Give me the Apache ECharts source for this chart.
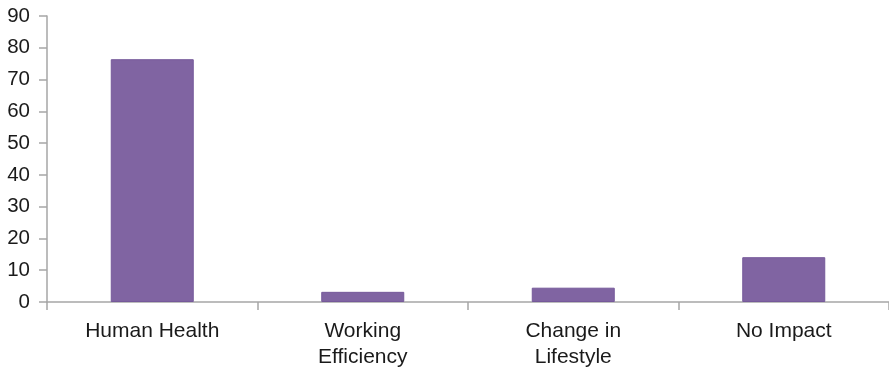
<!DOCTYPE html>
<html>
<head>
<meta charset="utf-8">
<script src="https://cdn.jsdelivr.net/npm/echarts@6/dist/echarts.min.js"></script>
<style>
  html, body { margin: 0; padding: 0; background: #ffffff; }
  #chart { width: 889px; height: 371px; }
</style>
</head>
<body>
<div id="chart"></div>
<script>
// Share of respondents by perceived impact
const categories = ['Human Health', 'Working\nEfficiency', 'Change in\nLifestyle', 'No Impact'];
const values = [76.4, 3.2, 4.5, 14.1];
const yTicks = { min: 0, max: 90, interval: 10 };

const axisGrey = '#a6a6a6';
const fontFamily = 'Liberation Sans, Arial, sans-serif';

const chart = echarts.init(document.getElementById('chart'), null, { renderer: 'canvas' });
chart.setOption({
  animation: false,
  grid: { left: 47, top: 16, width: 846, height: 286, containLabel: false },
  xAxis: {
    type: 'category',
    data: categories,
    axisLine: { lineStyle: { color: axisGrey, width: 1.5 } },
    axisTick: { show: true, length: 8, alignWithLabel: false, lineStyle: { color: axisGrey, width: 1.5 } },
    axisLabel: { margin: 16, lineHeight: 26, interval: 0, color: '#1a1a1a', fontFamily: fontFamily, fontSize: 21 }
  },
  yAxis: {
    type: 'value',
    min: yTicks.min,
    max: yTicks.max,
    interval: yTicks.interval,
    splitLine: { show: false },
    axisLine: { show: true, lineStyle: { color: axisGrey, width: 1.5 } },
    axisTick: { show: true, length: 8, lineStyle: { color: axisGrey, width: 1.5 } },
    axisLabel: { margin: 17, color: '#1a1a1a', fontFamily: fontFamily, fontSize: 20.5 }
  },
  series: [{
    type: 'bar',
    data: values,
    barWidth: 83,
    itemStyle: { color: '#8064a2', borderColor: '#75599a', borderWidth: 1 }
  }]
});
</script>
</body>
</html>
